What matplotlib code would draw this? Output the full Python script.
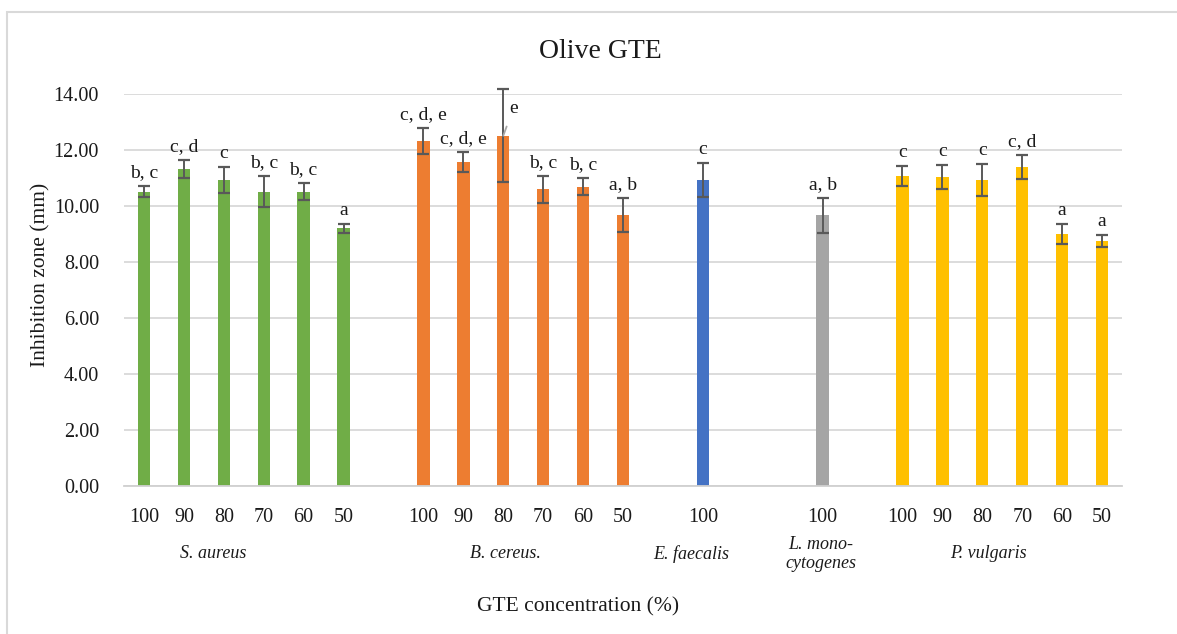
import matplotlib
matplotlib.use("Agg")
import matplotlib.pyplot as plt
from matplotlib.patches import Rectangle

# ---- data ----
groups = ["S. aureus", "B. cereus.", "E. faecalis", "L. mono-\ncytogenes", "P. vulgaris"]
group_colors = ["#70AD47", "#ED7D31", "#4472C4", "#A5A5A5", "#FFC000"]
concentrations = [
    ["100", "90", "80", "70", "60", "50"],
    ["100", "90", "80", "70", "60", "50"],
    ["100"],
    ["100"],
    ["100", "90", "80", "70", "60", "50"],
]
means = [
    [10.51, 11.31, 10.93, 10.51, 10.51, 9.21],
    [12.33, 11.57, 12.51, 10.60, 10.69, 9.68],
    [10.93],
    [9.67],
    [11.07, 11.04, 10.93, 11.38, 9.00, 8.76],
]
errors = [
    [0.20, 0.32, 0.45, 0.56, 0.30, 0.16],
    [0.46, 0.36, 1.67, 0.48, 0.31, 0.62],
    [0.62],
    [0.63],
    [0.35, 0.43, 0.58, 0.43, 0.36, 0.22],
]
letters = [
    ["b, c", "c, d", "c", "b, c", "b, c", "a"],
    ["c, d, e", "c, d, e", "e", "b, c", "b, c", "a, b"],
    ["c"],
    ["a, b"],
    ["c", "c", "c", "c, d", "a", "a"],
]
# slot index of first bar in each group (empty slots between groups)
group_start = [0, 7, 14, 17, 19]
group_label_pos = [1.73, 9.05, 13.7, 16.95, 21.15]
leader_label = (1, 2)  # (group, bar) whose letter is drawn with a leader line

yticks = [0, 2, 4, 6, 8, 10, 12, 14]

# ---- figure ----
W, H = 1177, 634
fig = plt.figure(figsize=(W / 100, H / 100), dpi=100)
serif = ["Liberation Serif", "DejaVu Serif"]
plt.rcParams["font.family"] = serif

ax = fig.add_axes([124 / W, 1 - 486 / H, 998 / W, (486 - 94) / H])
n_slots = 25
ax.set_xlim(-0.5, n_slots - 0.5)
ax.set_ylim(0, 14)

tick_pos, tick_lab = [], []
for g in range(len(groups)):
    xs = [group_start[g] + i for i in range(len(means[g]))]
    ax.bar(xs, means[g], width=0.31, color=group_colors[g], zorder=2)
    eb = ax.errorbar(xs, means[g], yerr=errors[g], fmt="none", ecolor="#595959",
                     elinewidth=1.4, capsize=4, capthick=1.6, zorder=3)
    for art in eb.lines[1] + eb.lines[2]:
        art.set_clip_on(False)
    for i, x in enumerate(xs):
        top = means[g][i] + errors[g][i]
        if (g, i) == leader_label:
            ax.annotate(letters[g][i], xy=(x, means[g][i]), xytext=(10, 27),
                        textcoords="offset pixels", ha="center", va="center",
                        fontsize=14, color="#1a1a1a",
                        arrowprops=dict(arrowstyle="-", color="#a6a6a6", lw=1.3,
                                        shrinkA=5, shrinkB=0), zorder=4)
        else:
            ax.annotate(letters[g][i], xy=(x, top), xytext=(0, 5),
                        textcoords="offset pixels", ha="center", va="bottom",
                        fontsize=14, color="#1a1a1a", zorder=4)
    tick_pos += xs
    tick_lab += concentrations[g]
    ax.text(group_label_pos[g], -0.173, groups[g], transform=ax.get_xaxis_transform(),
            ha="center", va="center", fontsize=13, style="italic", color="#1a1a1a",
            linespacing=1.15)

ax.set_xticks(tick_pos)
ax.set_xticklabels(tick_lab, fontsize=14.5, color="#1a1a1a")
ax.set_yticks(yticks)
ax.set_yticklabels([f"{v:.2f}" for v in yticks], fontsize=14.5, color="#1a1a1a")
ax.tick_params(axis="both", length=0)
ax.tick_params(axis="x", pad=16)
ax.tick_params(axis="y", pad=18)

ax.grid(axis="y", color="#d9d9d9", linewidth=1.3, zorder=0)
ax.set_axisbelow(True)
for s in ["top", "right", "left"]:
    ax.spines[s].set_visible(False)
ax.spines["bottom"].set_color("#d0d0d0")
ax.spines["bottom"].set_linewidth(1.3)

fig.text(600 / W, 1 - 51 / H, "Olive GTE", ha="center", va="center", fontsize=20, color="#1a1a1a")
fig.text(41 / W, 1 - 275 / H, "Inhibition zone (mm)", ha="center", va="center",
         rotation=90, fontsize=15.5, color="#1a1a1a")
fig.text(578 / W, 1 - 607 / H, "GTE concentration (%)", ha="center", va="center",
         fontsize=15.5, color="#1a1a1a")

# outer chart border (top and left visible)
fig.patches.append(Rectangle((7 / W, -0.1), 1.2, 1 - 12 / H + 0.1, transform=fig.transFigure,
                             fill=False, edgecolor="#d9d9d9", linewidth=1.5))

fig.savefig("out.png", dpi=100)
